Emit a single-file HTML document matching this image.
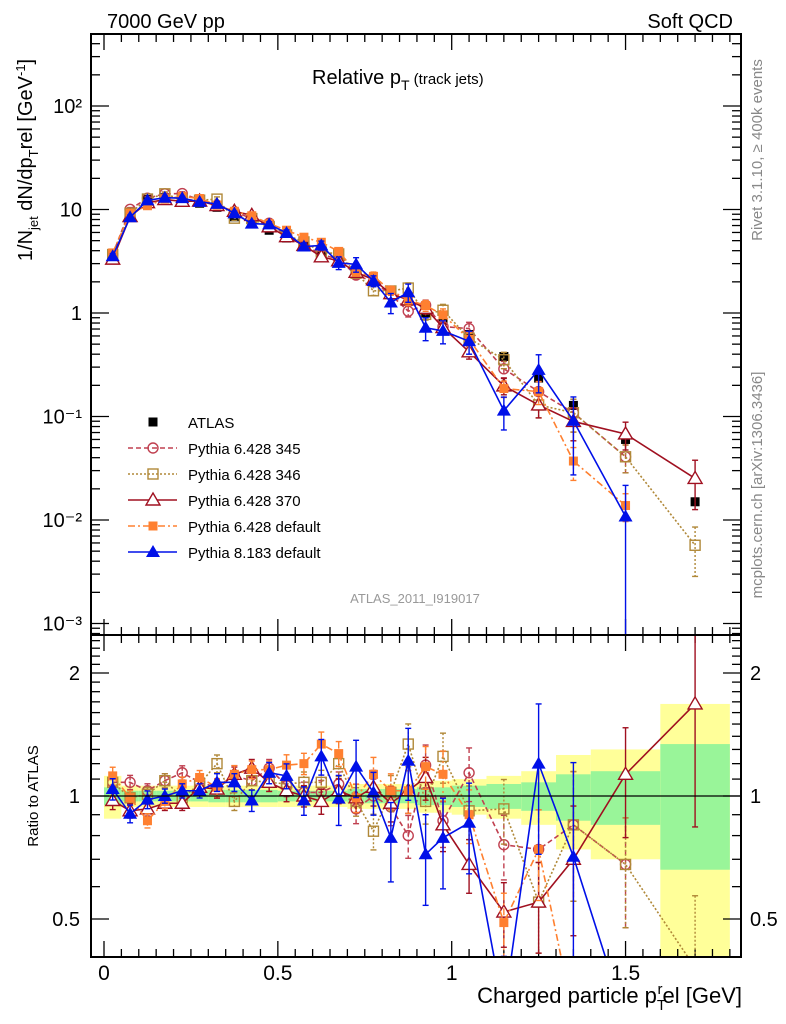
<!DOCTYPE html>
<html><head><meta charset="utf-8"><style>
html,body{margin:0;padding:0;background:#fff;overflow:hidden;width:786px;height:1024px;}
svg{display:block;font-family:"Liberation Sans",sans-serif;}
</style></head><body>
<svg id="c" width="786" height="1024" viewBox="0 0 786 1024" xmlns="http://www.w3.org/2000/svg">
<defs>
<clipPath id="cm"><rect x="91" y="34" width="650" height="601"/></clipPath>
<clipPath id="cr"><rect x="91" y="635" width="650" height="322"/></clipPath>
</defs>
<g id="bands" clip-path="url(#cr)"></g>
<g id="ticks"></g>
<g id="series"></g>
<rect x="91" y="34" width="650" height="601" fill="none" stroke="#000" stroke-width="2"/>
<rect x="91" y="635" width="650" height="322" fill="none" stroke="#000" stroke-width="2"/>
<line x1="91" x2="741" y1="796" y2="796" stroke="#000" stroke-width="1.3"/>
<text x="107" y="28" font-size="20">7000 GeV pp</text>
<text x="733" y="28" font-size="20" text-anchor="end">Soft QCD</text>
<text x="312" y="84" font-size="20">Relative p<tspan font-size="14" dy="6">T</tspan><tspan font-size="15" dy="-6"> (track jets)</tspan></text>
<text transform="translate(32,160) rotate(-90)" font-size="20" text-anchor="middle">1/N<tspan font-size="13" dy="6">jet</tspan><tspan dy="-6"> dN/dp</tspan><tspan font-size="13" dy="6">T</tspan><tspan dy="-6">rel [GeV</tspan><tspan font-size="13" dy="-7">-1</tspan><tspan dy="7">]</tspan></text>
<text transform="translate(762,150) rotate(-90)" font-size="15" fill="#888" text-anchor="middle">Rivet 3.1.10, ≥ 400k events</text>
<text transform="translate(762,485) rotate(-90)" font-size="15" fill="#888" text-anchor="middle">mcplots.cern.ch [arXiv:1306.3436]</text>
<text x="415" y="603" font-size="13" fill="#999" text-anchor="middle">ATLAS_2011_I919017</text>
<text transform="translate(38,796) rotate(-90)" font-size="15" text-anchor="middle">Ratio to ATLAS</text>
<text x="742" y="1003" font-size="22" text-anchor="end">Charged particle p<tspan font-size="15" dy="7">T</tspan><tspan font-size="15" dy="-16" dx="-8">r</tspan><tspan dy="9">el [GeV]</tspan></text>
<g id="legend"></g>
</svg>
<script>
const xCenters=[0.025,0.075,0.125,0.175,0.225,0.275,0.325,0.375,0.425,0.475,0.525,0.575,0.625,0.675,0.725,0.775,0.825,0.875,0.925,0.975,1.05,1.15,1.25,1.35,1.5,1.7];
const binEdges=[0,0.05,0.1,0.15,0.2,0.25,0.3,0.35,0.4,0.45,0.5,0.55,0.6,0.65,0.7,0.75,0.8,0.85,0.9,0.95,1.0,1.1,1.2,1.3,1.4,1.6,1.8];
const atlas=[3.4,9.3,12.5,13,12.5,11.5,10.5,8.5,7.5,6.3,5.3,4.5,3.6,3.1,2.5,2.0,1.6,1.3,1.0,0.85,0.62,0.38,0.235,0.128,0.06,0.015];
const yellowUp=[0.12,0.06,0.06,0.06,0.06,0.06,0.06,0.06,0.06,0.06,0.06,0.06,0.06,0.06,0.07,0.07,0.07,0.07,0.09,0.09,0.1,0.12,0.15,0.26,0.3,0.68];
const greenUp=[0.05,0.03,0.03,0.03,0.03,0.03,0.035,0.035,0.035,0.035,0.03,0.03,0.03,0.03,0.04,0.04,0.04,0.04,0.05,0.05,0.06,0.07,0.08,0.13,0.15,0.34];
const ratio345=[1.08,1.08,1.03,1.09,1.14,1.08,1.05,1.12,1.09,1.17,1.06,1.02,1.02,1.07,0.93,1.0,0.94,0.8,1.19,0.87,1.14,0.76,0.74,0.85,0.68,null];
const ratio346=[1.08,0.99,1.01,1.09,0.99,1.07,1.2,0.97,1.09,1.08,1.07,1.08,1.08,1.2,0.97,0.82,1.02,1.34,0.97,1.25,0.92,0.93,0.55,0.85,0.68,0.38];
const ratio370=[0.975,0.92,0.93,0.96,0.96,1.05,1.04,1.13,1.17,1.08,1.03,1.0,0.97,1.03,0.99,1.05,0.96,1.03,1.11,0.85,0.68,0.52,0.55,0.7,1.13,1.68];
const ratioP6def=[1.12,0.99,0.87,0.97,1.07,1.11,1.05,1.13,1.16,1.16,1.19,1.2,1.34,1.27,0.99,1.13,1.03,1.03,1.18,1.13,0.9,0.49,0.74,0.29,0.23,null];
const ratioP8=[1.04,0.905,0.98,1.0,1.03,1.03,1.08,1.08,0.975,1.14,1.12,0.975,1.25,0.985,1.18,1.02,0.79,1.22,0.72,0.79,0.86,0.3,1.2,0.71,0.18,null];
const errP6=[0.05,0.04,0.04,0.04,0.04,0.04,0.05,0.05,0.05,0.05,0.06,0.06,0.07,0.07,0.08,0.1,0.1,0.12,0.12,0.14,0.15,0.18,0.25,0.35,0.3,0.5];
const errP8=[0.06,0.05,0.05,0.04,0.04,0.04,0.05,0.05,0.06,0.06,0.07,0.08,0.1,0.14,0.16,0.12,0.22,0.2,0.25,0.25,0.25,0.35,0.4,0.7,1.0,0];
const mainTickLabels=["10⁻³","10⁻²","10⁻¹","1","10","10²"];
const xTickLabels=["0","0.5","1","1.5"];
const ratioTickVals=[0.5,1,2];

const NS="http://www.w3.org/2000/svg";
const X=v=>104+347.7*v;
const cl=(y,a,b)=>Math.max(a,Math.min(b,y));
const rawM=v=>313-103.5*Math.log10(Math.max(v,1e-6));
const rawR=v=>796-408.6*Math.log10(Math.max(v,0.05));
const YM=v=>cl(rawM(v),0,1020);
const YR=v=>cl(rawR(v),0,1020);
function el(t,a,p){const e=document.createElementNS(NS,t);for(const k in a)e.setAttribute(k,a[k]);p.appendChild(e);return e;}
const bands=document.getElementById('bands'),ticks=document.getElementById('ticks'),series=document.getElementById('series'),legend=document.getElementById('legend');

for(let i=0;i<xCenters.length;i++){
  const x0=X(binEdges[i]),x1=X(binEdges[i+1]);
  const yu=cl(rawR(1+yellowUp[i]),635,957),yd=cl(rawR(1-yellowUp[i]),635,957);
  const r=el('rect',{x:x0,y:yu,width:x1-x0,height:yd-yu,fill:'#ffff99'},bands);
  
  
  const gu=rawR(1+greenUp[i]),gd=rawR(1-greenUp[i]);
  const g=el('rect',{x:x0,y:gu,width:x1-x0,height:gd-gu,fill:'#99f599'},bands);
  
  
}
for(let v=0;v<=1.8001;v+=0.05){
  const major=Math.abs(v*2-Math.round(v*2))<1e-6;
  const L=major?16:8;
  [[34,1],[635,-1],[635,1],[957,-1]].forEach(([y,d])=>el('line',{x1:X(v),x2:X(v),y1:y,y2:y+d*L,stroke:'#000','stroke-width':1.3},ticks));
}
xTickLabels.forEach((s,i)=>{const t=el('text',{x:X(i*0.5),y:980,'font-size':21,'text-anchor':'middle'},ticks);t.textContent=s;

});
for(let d=-4;d<=2;d++){for(let m=1;m<=9;m++){const v=m*Math.pow(10,d);const y=rawM(v);if(y<34||y>635)continue;const L=m==1?18:9;
el('line',{x1:91,x2:91+L,y1:y,y2:y,stroke:'#000','stroke-width':1.3},ticks);el('line',{x1:741,x2:741-L,y1:y,y2:y,stroke:'#000','stroke-width':1.3},ticks);}}
mainTickLabels.forEach((s,i)=>{const t=el('text',{x:82,y:rawM(Math.pow(10,i-3))+7,'font-size':20,'text-anchor':'end'},ticks);t.textContent=s;

});
for(let v=0.4;v<=2.5;v+=0.1){const y=rawR(v);if(y<635||y>957)continue;const big=[0.5,1,2].some(q=>Math.abs(q-v)<1e-6);const L=big?18:9;
el('line',{x1:91,x2:91+L,y1:y,y2:y,stroke:'#000','stroke-width':1.3},ticks);el('line',{x1:741,x2:741-L,y1:y,y2:y,stroke:'#000','stroke-width':1.3},ticks);}
ratioTickVals.forEach(v=>{const t=el('text',{x:80,y:rawR(v)+7,'font-size':20,'text-anchor':'end'},ticks);t.textContent=String(v);


const t2=el('text',{x:750,y:rawR(v)+7,'font-size':20},ticks);t2.textContent=String(v);

});

function marker(g,type,x,y,col){
  if(type=='sqf')return el('rect',{x:x-4.5,y:y-4.5,width:9,height:9,fill:col},g);
  if(type=='circ')return el('circle',{cx:x,cy:y,r:5,fill:'none',stroke:col,'stroke-width':1.4},g);
  if(type=='sqo')return el('rect',{x:x-5,y:y-5,width:10,height:10,fill:'none',stroke:col,'stroke-width':1.4},g);
  if(type=='trio')return el('path',{d:`M${x},${y-7}L${x+7},${y+5}L${x-7},${y+5}Z`,fill:'#fff',stroke:col,'stroke-width':1.4},g);
  if(type=='trif')return el('path',{d:`M${x},${y-7}L${x+7},${y+5}L${x-7},${y+5}Z`,fill:col},g);
}
const defs=[
 {name:'pythia-6-345',lab:'Pythia 6.428 345',r:ratio345,e:errP6,col:'#c04050',m:'circ',dash:'5,3'},
 {name:'pythia-6-346',lab:'Pythia 6.428 346',r:ratio346,e:errP6,col:'#b08838',m:'sqo',dash:'2,2'},
 {name:'pythia-6-370',lab:'Pythia 6.428 370',r:ratio370,e:errP6,col:'#a01020',m:'trio',dash:''},
 {name:'pythia-6-default',lab:'Pythia 6.428 default',r:ratioP6def,e:errP6,col:'#ff8030',m:'sqf',dash:'7,3,2,3'},
 {name:'pythia-8-default',lab:'Pythia 8.183 default',r:ratioP8,e:errP8,col:'#0010e8',m:'trif',dash:''}
];
function drawSeries(s){
  ['main','ratio'].forEach(panel=>{
    const g=el('g',{'clip-path':panel=='main'?'url(#cm)':'url(#cr)'},series);
    
    
    const val=i=>panel=='main'?atlas[i]*s.r[i]:s.r[i];
    const F=panel=='main'?YM:YR;
    const top=panel=='main'?34:635,bot=panel=='main'?635:957;
    const pts=[];
    s.r.forEach((v,i)=>{if(v!==null)pts.push([X(xCenters[i]),F(val(i)),i]);});
    const ln=el('polyline',{points:pts.map(p=>p[0]+','+p[1]).join(' '),fill:'none',stroke:s.col,'stroke-width':1.6,'stroke-dasharray':s.dash},g);
    
    
    pts.forEach(([x,y,i])=>{
      const v=val(i),er=s.e[i];
      if(er>0){const up=F(v*(1+er));const dn=F(v*(1-er));
        const b=el('line',{x1:x,x2:x,y1:up,y2:dn,stroke:s.col,'stroke-width':1.4,'stroke-dasharray':s.dash},g);
        
        
        el('line',{x1:x-3,x2:x+3,y1:up,y2:up,stroke:s.col,'stroke-width':1.4},g);el('line',{x1:x-3,x2:x+3,y1:dn,y2:dn,stroke:s.col,'stroke-width':1.4},g);}
      if(y>top-3&&y<bot+3){
        const mk=marker(g,s.m,x,y,s.col);
        
        
      }
    });
  });
}
const ag=el('g',{},series);


atlas.forEach((v,i)=>{const m=marker(ag,'sqf',X(xCenters[i]),rawM(v),'#000');

});
defs.forEach(drawSeries);

const ly=[422,448,474,500,526,552];
const lg0=el('g',{},legend);


marker(lg0,'sqf',153,ly[0],'#000');
const t0=el('text',{x:188,y:ly[0]+6,'font-size':15},lg0);t0.textContent='ATLAS';
defs.forEach((s,k)=>{const g=el('g',{},legend);


el('line',{x1:128,x2:177,y1:ly[k+1],y2:ly[k+1],stroke:s.col,'stroke-width':1.5,'stroke-dasharray':s.dash},g);
marker(g,s.m,153,ly[k+1],s.col);
const t=el('text',{x:188,y:ly[k+1]+6,'font-size':15},g);t.textContent=s.lab;});
</script>
</body></html>
